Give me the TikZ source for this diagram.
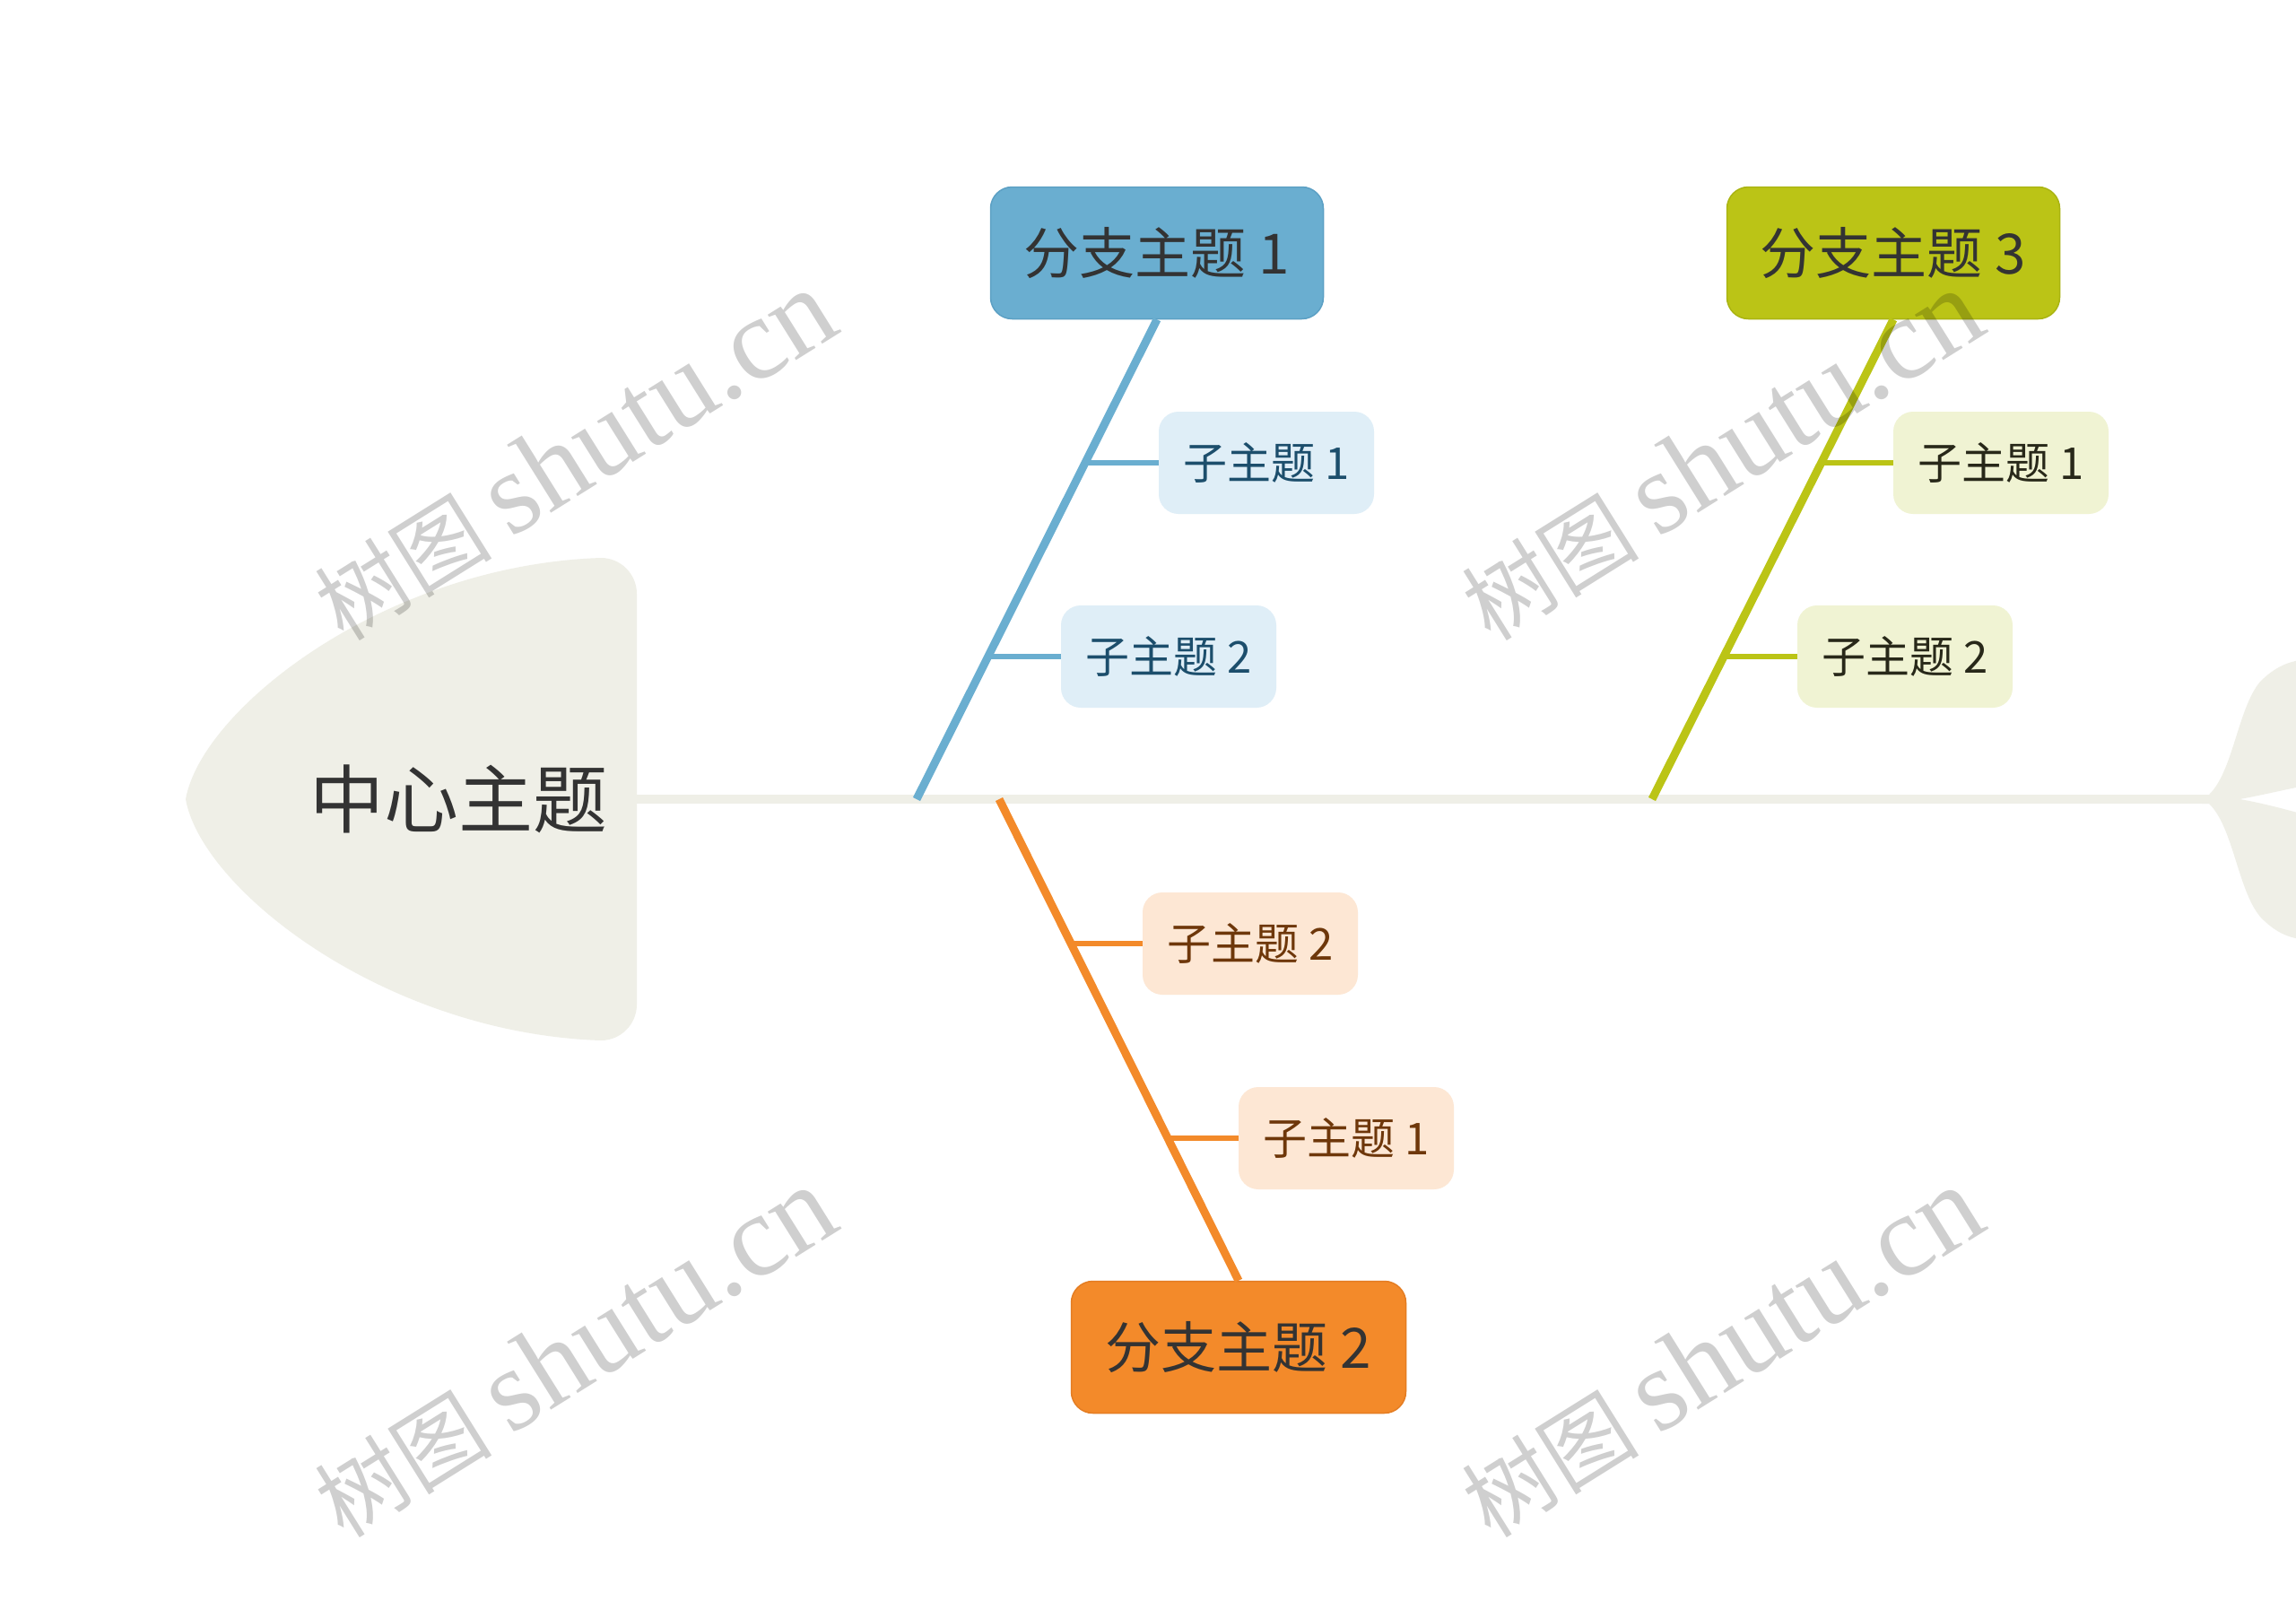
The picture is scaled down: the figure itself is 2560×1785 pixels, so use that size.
\documentclass[tikz,border=0pt]{standalone}
\usepackage{fontspec}
\newfontfamily\cjk{Noto Sans CJK SC}
\newfontfamily\wmlatin{Liberation Serif}
\definecolor{headc}{RGB}{239,239,231}
\definecolor{bluec}{RGB}{106,174,208}
\definecolor{blueb}{RGB}{92,160,196}
\definecolor{bluesub}{RGB}{223,238,247}
\definecolor{bluetxt}{RGB}{28,78,108}
\definecolor{greenc}{RGB}{187,196,22}
\definecolor{greenb}{RGB}{170,180,18}
\definecolor{greensub}{RGB}{240,243,211}
\definecolor{greentxt}{RGB}{40,40,25}
\definecolor{orangec}{RGB}{243,138,42}
\definecolor{orangeb}{RGB}{228,125,35}
\definecolor{orangesub}{RGB}{253,231,212}
\definecolor{orangetxt}{RGB}{110,55,10}
\definecolor{maintxt}{RGB}{51,51,51}
\newcommand{\wmtext}{{\cjk\fontsize{99}{110}\selectfont 树图}\hspace{22pt}{\wmlatin\fontsize{130}{140}\selectfont shutu.cn}}
\begin{document}
\begin{tikzpicture}[x=1pt,y=-1pt,
  branchbox/.style={rounded corners=24pt, minimum width=371pt, minimum height=147pt,
    inner sep=0pt, text=maintxt, font=\cjk\fontsize{62}{70}\selectfont, line width=1.5pt},
  subbox/.style={rounded corners=22pt, minimum width=240pt, minimum height=114pt,
    inner sep=0pt, font=\cjk\fontsize{49}{56}\selectfont},
  bline/.style={line width=9pt},
  sline/.style={line width=6pt},
  wm/.style={rotate=32, text=black, text opacity=0.19, inner sep=0pt}
]
\useasboundingbox (0,0) rectangle (2560,1785);
\fill[white] (0,0) rectangle (2560,1785);

% fish head
\fill[headc] (710,662) .. controls (710,640) and (692,622) .. (670,622)
  .. controls (430,630) and (225,790) .. (207,891)
  .. controls (225,992) and (430,1152) .. (670,1160)
  .. controls (692,1160) and (710,1142) .. (710,1120) -- cycle;
\node[font=\cjk\fontsize{83}{90}\selectfont, text=maintxt, inner sep=0pt] (head) at (511,891) {中心主题};

% spine
\coordinate (spineL) at (705,891);
\coordinate (tail) at (2470,891);
\draw[headc, line width=10pt] (spineL) -- (tail);

% tail
\fill[headc] (2455,886) -- (2463,886)
  .. controls (2490,860) and (2495,790) .. (2520,760)
  .. controls (2535,745) and (2550,738) .. (2565,736) -- (2565,877)
  .. controls (2540,882) and (2515,888) .. (2497,891)
  .. controls (2515,894) and (2540,900) .. (2565,907) -- (2565,1047)
  .. controls (2550,1045) and (2535,1038) .. (2520,1022)
  .. controls (2495,992) and (2490,922) .. (2463,896) -- (2455,896) -- cycle;

% branch 1 (blue)
\node[branchbox, fill=bluec, draw=blueb] (b1) at (1290,282) {分支主题 1};
\coordinate (b1end) at (1022,891);
\coordinate (b1j1) at (1210,516);
\coordinate (b1j2) at (1102,732);
\node[subbox, fill=bluesub, text=bluetxt] (s11) at (1412,516) {子主题 1};
\node[subbox, fill=bluesub, text=bluetxt] (s12) at (1303,732) {子主题 2};
\draw[bluec, sline] (b1j1) -- (s11.west);
\draw[bluec, sline] (b1j2) -- (s12.west);
\draw[bluec, bline] (b1.south) -- (b1end);

% branch 3 (green)
\node[branchbox, fill=greenc, draw=greenb] (b3) at (2111,282) {分支主题 3};
\coordinate (b3end) at (1842,891);
\coordinate (b3j1) at (2031,516);
\coordinate (b3j2) at (1922,732);
\node[subbox, fill=greensub, text=greentxt] (s31) at (2231,516) {子主题 1};
\node[subbox, fill=greensub, text=greentxt] (s32) at (2124,732) {子主题 2};
\draw[greenc, sline] (b3j1) -- (s31.west);
\draw[greenc, sline] (b3j2) -- (s32.west);
\draw[greenc, bline] (b3.south) -- (b3end);

% branch 2 (orange)
\node[branchbox, fill=orangec, draw=orangeb, minimum width=373pt] (b2) at (1381,1502) {分支主题 2};
\coordinate (b2start) at (1114,891);
\coordinate (b2j1) at (1194,1052);
\coordinate (b2j2) at (1302,1269);
\node[subbox, fill=orangesub, text=orangetxt] (s22) at (1394,1052) {子主题 2};
\node[subbox, fill=orangesub, text=orangetxt] (s21) at (1501,1269) {子主题 1};
\draw[orangec, sline] (b2j1) -- (s22.west);
\draw[orangec, sline] (b2j2) -- (s21.west);
\draw[orangec, bline] (b2start) -- (b2.north);

% watermarks
\node[wm] (wm1) at (640,508) {\wmtext};
\node[wm] (wm2) at (1919,508) {\wmtext};
\node[wm] (wm3) at (640,1508) {\wmtext};
\node[wm] (wm4) at (1919,1508) {\wmtext};
\end{tikzpicture}
\end{document}
